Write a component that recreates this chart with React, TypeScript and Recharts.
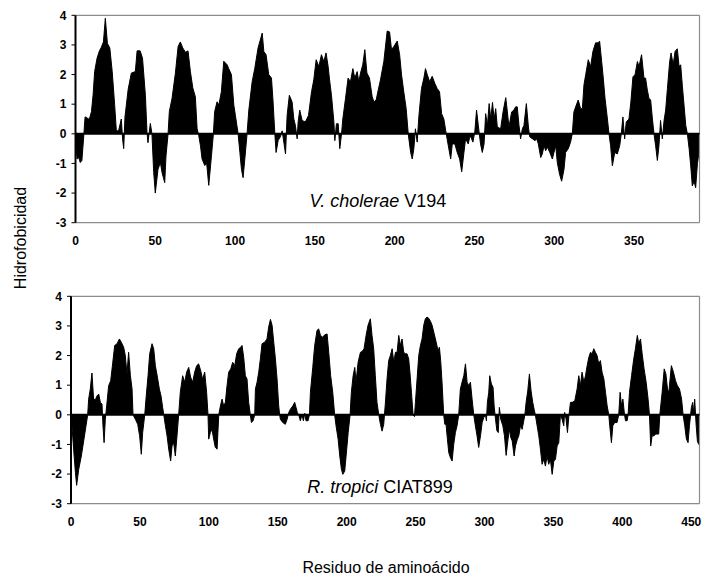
import React from 'react';
import { AreaChart, Area, XAxis, YAxis, ReferenceLine } from 'recharts';

// V. cholerae V194 — residue positions and hydrophobicity values
const vcResidues = [
  0, 1, 2, 3, 4, 5, 6, 7, 8, 9, 10, 11, 12, 13.5, 15, 16, 17.5, 18.7, 20, 21.5,
  23, 24.5, 25.6, 27, 28.7, 29.5, 30.2, 31, 33, 35, 37.5, 38.6, 40.5, 42, 43.8, 44.8,
  45.4, 46.9, 47.9, 49, 50, 51.7, 53.2, 54.2, 55.9, 56.7, 58, 58.8, 60.5, 62.6, 64.3, 65.7,
  67.2, 68.9, 70.5, 72, 73.5, 75.1, 76.2, 77.2, 78.3, 79.3, 81, 82.2, 83.5, 85.2, 86.4, 87.2,
  88.7, 89.8, 91.4, 92.9, 95, 96, 97.7, 99.2, 100.2, 101.9, 103, 104, 105, 106.1, 107.5, 108.6,
  110.7, 112.3, 114.4, 117, 118, 119.4, 121.1, 122.8, 123.8, 124.9, 125.7, 127, 128.4, 129.5, 130.7, 131.6,
  132.6, 134, 135.7, 136.8, 137.8, 138.9, 139.5, 140.5, 142, 144, 146, 147.9, 149.3, 150.8, 152.5, 154.1,
  155.6, 157, 158.3, 159.2, 160.4, 161.9, 162.5, 163.5, 164.6, 165.6, 166.7, 167.5, 169.2, 170.8, 172.3, 173.8,
  175, 176.5, 177.5, 178.6, 180, 181.3, 182.6, 184.2, 185.9, 187, 188.4, 189.7, 191.1, 193.2, 195.3, 196.8,
  198, 199.5, 201.6, 203.1, 204.3, 205.7, 207.2, 208.5, 210, 211, 212, 213, 214.1, 215.2, 216.8, 218.3,
  219.3, 220.4, 221.9, 223.5, 225.2, 226.6, 228.1, 229.4, 230.8, 232.3, 233.6, 235.1, 236.1, 237.7, 239.2, 240.7,
  242, 243.4, 244.4, 246.1, 247.2, 248.2, 249, 250.2, 251.3, 252.4, 253.8, 254.9, 256, 257, 258.1, 259.2,
  260.2, 261.3, 262.3, 263.3, 264.3, 266.4, 267.9, 269.6, 270.6, 271.6, 273.3, 274.7, 275.8, 276.8, 277.9, 278.9,
  280, 281, 282.5, 283.8, 284.6, 286.3, 288, 289, 290, 291.5, 292.5, 293.6, 294.6, 295.7, 297.2, 298.8,
  299.8, 300.9, 301.9, 303.3, 304.6, 306.1, 307.1, 308.8, 310.2, 311.3, 312.3, 313.8, 315, 316.5, 317.6, 318.6,
  319.7, 321.3, 322.8, 324.2, 325.9, 327.6, 328.4, 329.7, 330.7, 331.8, 333.3, 334.3, 335.3, 336.4, 337.9, 339.5,
  341, 342, 343, 344.1, 345.1, 346.8, 348, 349.3, 350.6, 352.1, 353.1, 354.7, 356.2, 357.2, 358.3, 359.3,
  360.4, 361.5, 362.5, 363.5, 364.6, 365.6, 366.6, 367.7, 368.8, 369.8, 370.9, 372.3, 373.2, 374.5, 375.7, 377.1,
  378.2, 379.2, 380.3, 381.3, 382.4, 383.4, 384.5, 385.5, 386.5, 387.6, 388.6, 389.7, 390.7, 391,
];
const vcHydro = [
  -0.3, -0.85, -0.8, -0.97, -0.9, -0.2, 0.57, 0.55, 0.5, 0.55, 0.75, 1.3, 2.1, 2.55, 2.8, 2.9, 3.1, 3.9, 3.05, 2.9,
  2.1, 1.0, 0.1, 0.1, 0.5, -0.17, -0.5, 0.57, 1.5, 2.05, 2.1, 2.8, 2.8, 2.55, 1.3, 0.05,
  -0.3, 0.35, 0, -1.3, -2.0, -1.2, -0.97, -1.3, -1.65, -0.75, 0, 0.75, 1.2, 2.05, 2.95, 3.1,
  2.9, 2.75, 2.8, 2.1, 1.55, 1.25, 0.17, -0.05, -0.4, -0.85, -1.07, -1.0, -1.74, -0.74, 0, 0.75,
  1.08, 0.97, 1.42, 2.45, 2.33, 2.2, 2.0, 0.97, 0.62, 0, -0.63, -1.2, -1.48, -0.85, 0, 0.8,
  1.76, 2.2, 2.9, 3.4, 2.78, 2.67, 2.0, 1.88, 1.08, 0, -0.63, -0.22, -0.1, 0.1, -0.34, -0.68,
  0.62, 1.3, 1.08, 0.5, 0.28, -0.17, 0.4, 0.8, 0.45, 0.4, 0.62, 1.42, 1.82, 2.5, 2.27, 2.67,
  2.44, 2.73, 2.27, 1.82, 1.3, 0.4, -0.23, 0.34, 0.34, -0.5, 0, 0.5, 1.2, 1.88, 1.76, 2.2,
  1.88, 2.1, 1.76, 2.05, 2.33, 2.84, 2.05, 1.88, 1.25, 1.08, 1.14, 1.48, 1.82, 2.44, 3.47, 3.44,
  2.84, 2.95, 3.13, 2.67, 1.99, 1.42, 0.85, 0, -0.63, -0.85, -0.5, 0.17, -0.28, 0.62, 1.53, 1.88,
  2.2, 2.0, 1.76, 1.94, 1.7, 1.53, 1.42, 0.68, 0.5, 0, -0.4, -0.85, -0.34, -0.34, -0.63, -0.85,
  -1.28, -0.63, -0.17, -0.34, -0.06, -0.17, -0.28, 0.06, 0.8, 0.28, -0.34, -0.63, -0.34, 0.68, 0.28, 1.02,
  0.5, 1.06, 0.5, 0.85, 0.23, 0.17, 0.74, 1.22, 0.74, 0.23, 0.74, 0.8, 0.91, 0.91, 0.28, -0.17,
  0.17, 0.28, 1.02, 0.23, -0.1, -0.17, -0.23, -0.17, -0.34, -0.8, -0.68, -0.4, -0.57, -0.45, -0.63, -0.85,
  -0.63, -0.4, -0.97, -1.36, -1.6, -1.2, -0.63, -0.5, -0.28, 0, 0.74, 0.97, 1.14, 0.85, 0.85, 1.65,
  2.0, 2.5, 2.27, 2.78, 3.07, 3.07, 3.13, 2.44, 1.88, 1.2, 0.5, 0, -0.4, -1.08, -0.63, -0.68,
  -0.4, 0, 0.57, -0.17, 0.4, 0.5, 1.08, 1.93, 1.99, 2.44, 2.27, 2.67, 1.88, 1.88, 1.48, 1.2,
  1.14, 0.5, 0, -0.4, -0.9, -0.4, 0.45, -0.17, 0.45, 0.8, 1.53, 2.44, 2.73, 2.33, 2.78, 2.87,
  2.27, 2.33, 1.59, 0.97, 0.28, 0, -0.5, -1.08, -1.76, -1.6, -1.82, -1.0, -0.63, -0.55,
];

// R. tropici CIAT899 — residue positions and hydrophobicity values
const rtResidues = [
  0, 0.7, 1.9, 3.2, 4.1, 5.6, 7.5, 9.2, 10.9, 12.1, 12.8, 14, 15.2, 16.4, 17.7, 18.9,
  20.1, 21.3, 22.5, 23.2, 24, 24.9, 25.9, 27.3, 28.8, 30.2, 31.7, 33.4, 35.1, 36.5, 38.2, 39.4,
  40.6, 41.8, 43.1, 44.3, 45, 46.7, 48.4, 49.8, 51, 52, 53.5, 54.4, 55.9, 57.1, 58.8, 60,
  61.2, 62.7, 64.1, 65.3, 66.5, 67.3, 68.5, 69.7, 70.9, 72.3, 73.3, 74.5, 75.7, 76.9, 78.1, 79.3,
  81, 82.5, 83.9, 85.4, 86.8, 88.3, 89.7, 91.2, 92.6, 94.1, 95.5, 97, 98.4, 99.4, 99.9, 101.1,
  102.3, 103.5, 104.7, 106, 107.2, 108.4, 109.6, 110.8, 112, 113.2, 114.4, 115.9, 117.3, 118.8, 120.2, 121.7,
  123.1, 124.1, 125.3, 126.5, 127.7, 128.9, 130.1, 130.9, 132.1, 133.3, 133.8, 135, 136.2, 137.4, 138.6, 140.5,
  142.2, 143.4, 144.7, 145.9, 147.1, 148.3, 149.5, 150.7, 151.4, 151.9, 153.6, 155.5, 156.8, 158, 159.2, 160.9,
  162.3, 163.3, 164.2, 165.2, 166.4, 167.6, 168.6, 169.6, 170.5, 172, 173, 173.7, 175.4, 176.8, 178.5, 179.7,
  181, 182.6, 184.1, 185.8, 187, 188.4, 189.9, 191.3, 192.3, 193.8, 195, 196.2, 197.2, 198.6, 199.6, 201.1,
  202.5, 203.4, 204.7, 205.9, 206.8, 208.3, 210, 211.2, 212.6, 214.1, 215.5, 217.2, 218.4, 219.6, 220.8, 222,
  223.3, 224.5, 225.7, 226.9, 228.1, 229.3, 230.5, 231.7, 233, 234.2, 235.4, 236.6, 237.8, 239, 240.2, 241.4,
  242.6, 243.8, 245, 246, 247, 248.2, 249.2, 249.9, 251.1, 252.3, 253.5, 254.7, 255.9, 257.1, 258.3, 259.5,
  260.8, 262, 264.4, 266.3, 267.3, 268.2, 269.2, 270.4, 271.2, 272.1, 273.1, 274.1, 275.3, 276.5, 277.7, 278.9,
  280.1, 281.3, 282.5, 283.7, 285, 286.2, 287.4, 288.6, 289.8, 291, 292.2, 293.4, 294.6, 295.8, 297.1, 298.3,
  299.5, 300.7, 301.4, 302.1, 303.1, 303.8, 305, 306.2, 307, 308, 309, 310, 310.8, 311.8, 313.3, 314.5,
  315.7, 317.1, 318.1, 319.1, 320.1, 321.5, 322.5, 323.9, 324.9, 326.1, 327.3, 328.5, 329.3, 330.2, 331.4, 332.6,
  333.8, 335, 336, 336.9, 338.2, 339.4, 340.6, 341.8, 343, 344.2, 345.4, 346.6, 347.8, 349.1, 350.3, 351.5,
  352.7, 353.9, 355.1, 356.3, 357.5, 358.2, 359.2, 360.2, 361.2, 362.4, 363.6, 365.5, 367.2, 368.4, 369.6, 370.8,
  372.1, 373.3, 374.5, 375.7, 376.9, 378.1, 379.3, 380.5, 381.7, 382.9, 384.1, 385.3, 386.6, 387.8, 389, 390.2,
  390.9, 392.1, 393.1, 394.5, 396.2, 397.4, 398.4, 399.4, 400.4, 401.6, 402.3, 403.5, 404.2, 405.2, 406.7, 408.3,
  409.5, 410.9, 411.9, 413.2, 414.4, 415.8, 417.3, 418.7, 419.7, 420.6, 421.6, 423, 424.2, 426.4, 427.2, 428.9,
  430.4, 431.6, 432.8, 433.8, 434.2, 435.6, 437.1, 438.6, 440, 441.5, 443, 444.1, 445.3, 446.5, 447.7, 448.7,
  450.1, 451.1, 452, 452.5, 453.5, 454.5, 455.5, 456,
];
const rtHydro = [
  -0.2, -0.37, -1.16, -1.95, -2.38, -1.84, -1.39, -0.88, -0.37, 0, 0.53, 0.87, 1.41, 0.53, 0.51, 0.64,
  0.7, 0.42, 0.36, -0.37, -0.94, -0.15, 0.3, 0.98, 1.15, 1.72, 2.34, 2.4, 2.56, 2.45, 2.28, 2.0,
  1.38, 2.11, 1.32, 0.87, 0, -0.15, -0.32, -0.71, -1.33, -0.6, 0, 0.53, 1.32, 2.06, 2.4, 2.23,
  1.66, 1.27, 0.87, 0.64, 0.25, 0, -0.37, -0.71, -1.16, -1.56, -1.05, -0.94, -1.39, -0.71, 0, 0.76,
  1.32, 1.1, 1.44, 1.6, 1.27, 1.1, 1.44, 1.66, 1.72, 1.49, 1.2, 1.44, 0.76, 0, -0.82, -0.6,
  -0.49, -0.82, -1.1, -1.16, 0, 0.3, 0.53, 0.3, 0.42, 0.98, 1.44, 1.55, 1.77, 1.66, 2.06, 2.23,
  2.28, 2.34, 1.94, 1.32, 1.21, 0.42, 0, -0.26, -0.2, 0, 0.87, 1.1, 1.44, 1.89, 2.4, 2.45,
  2.56, 2.96, 3.22, 3.02, 2.45, 1.89, 1.21, 0.3, 0, -0.15, -0.26, -0.32, -0.15, 0.08, 0.19, 0.3,
  0.42, 0.25, 0.08, 0, -0.2, 0, -0.2, 0.05, -0.2, -0.2, 0, 0.76, 1.6, 2.34, 2.85, 2.9,
  2.68, 2.62, 2.7, 2.73, 2.11, 1.32, 0.76, 0, -0.37, -0.82, -1.39, -1.84, -2.01, -1.9, -1.39, -0.6,
  0, 0.76, 1.32, 1.6, 1.1, 1.77, 2.11, 2.14, 2.23, 2.68, 3.02, 3.24, 2.68, 2.23, 1.32, 0.42,
  0, -0.32, -0.55, -0.32, 0.4, 1.21, 1.83, 2.0, 2.23, 1.77, 2.11, 2.11, 2.68, 2.34, 2.56, 2.11,
  2.06, 2.06, 1.89, 1.38, 0.76, 0, -0.06, 0.42, 1.21, 2.0, 2.34, 2.56, 3.02, 3.24, 3.3, 3.26,
  3.16, 3.02, 2.56, 2.17, 2.28, 1.83, 1.1, 0, -0.32, -0.32, -0.82, -1.28, -1.45, -1.56, -0.99, -0.6,
  -0.37, 0, 0.87, 1.1, 1.32, 1.72, 1.1, 0.98, 1.1, 0.53, 0, -0.37, -0.71, -1.1, -0.71, -0.26,
  -0.09, 0, -0.2, 0.42, 0.76, 1.32, 1.04, 0.93, 0.3, -0.15, -0.54, -0.6, 0.25, -0.15, -0.37, -0.71,
  -1.37, -0.82, -0.49, -0.77, -0.88, -1.39, -1.05, -0.82, -0.71, -0.37, -0.49, -0.2, 0, 0.42, 0.81, 1.38,
  0.81, 0.42, 0.19, 0, -0.37, -0.71, -1.16, -1.67, -1.5, -1.73, -1.39, -1.67, -1.5, -2.01, -1.56, -1.5,
  -1.05, -0.94, 0, -0.15, -0.37, 0.08, -0.15, -0.6, -0.05, 0.42, 0.42, 0.47, 0.87, 1.32, 0.98, 1.44,
  1.1, 1.32, 1.66, 1.94, 2.11, 2.06, 2.23, 2.11, 2.0, 1.72, 1.83, 1.44, 1.21, 0.76, 0.3, 0,
  -0.37, -0.94, -0.37, -0.26, -0.26, 0, 0.76, 0.3, 0.53, 0, -0.2, -0.2, 0, 0.76, 1.32, 1.89,
  2.23, 2.68, 2.4, 2.56, 2.06, 1.55, 1.1, 0.53, 0, -1.05, -0.71, -0.71, -0.65, -0.65, 0, 0.76,
  1.55, 1.38, 0.87, 0.76, 0.98, 1.66, 1.44, 1.15, 0.98, 0.87, 0.53, 0, -0.37, -0.82, -0.94, -0.37,
  0.25, 0.42, 0, 0.53, -0.3, -0.9, -1.0, -1.0,
];

const yTicks = [-3, -2, -1, 0, 1, 2, 3, 4];
const vcXTicks = [0, 50, 100, 150, 200, 250, 300, 350];
const rtXTicks = [0, 50, 100, 150, 200, 250, 300, 350, 400, 450];

const vcData = vcResidues.map((r, i) => ({ r, h: vcHydro[i] }));
const rtData = rtResidues.map((r, i) => ({ r, h: rtHydro[i] }));

const FONT = "'Liberation Sans', Arial, sans-serif";
const tickStyle = { fill: '#000', fontSize: 12, fontWeight: 'bold', fontFamily: FONT };

type PanelProps = {
  data: { r: number; h: number }[];
  xMax: number;
  xTicks: number[];
  axisLeft: number;
  top: number;
};

function Panel({ data, xMax, xTicks, axisLeft, top }: PanelProps) {
  return (
    <div style={{ position: 'absolute', left: 0, top }}>
      <AreaChart
        width={707}
        height={260}
        data={data}
        margin={{ top: 15.3, right: 7.5, left: 0, bottom: 7.3 }}
      >
        <XAxis
          dataKey="r"
          type="number"
          domain={[0, xMax]}
          ticks={xTicks}
          interval={0}
          allowDataOverflow
          tickLine={false}
          axisLine={{ stroke: '#8c8c8c', strokeWidth: 1.2 }}
          tickSize={0}
          tickMargin={14}
          height={30}
          tick={tickStyle}
        />
        <YAxis
          type="number"
          domain={[-3, 4]}
          ticks={yTicks}
          interval={0}
          width={axisLeft}
          axisLine={{ stroke: '#000', strokeWidth: 2 }}
          tickLine={{ stroke: '#000', strokeWidth: 1 }}
          tickSize={4}
          tickMargin={5}
          tick={tickStyle}
        />
        <ReferenceLine y={4} stroke="#8c8c8c" strokeWidth={1.2} />
        <ReferenceLine x={xMax} stroke="#8c8c8c" strokeWidth={1.2} />
        <Area
          type="linear"
          dataKey="h"
          stroke="#000"
          strokeWidth={1}
          fill="#000"
          fillOpacity={1}
          baseValue={0}
          dot={false}
          activeDot={false}
          isAnimationActive={false}
        />
        <ReferenceLine y={0} stroke="#000" strokeWidth={2} />
      </AreaChart>
    </div>
  );
}

export default function App() {
  return (
    <div
      style={{
        position: 'fixed',
        left: 0,
        top: 0,
        width: 707,
        height: 584,
        background: '#fff',
        fontFamily: FONT,
      }}
    >
      <Panel data={vcData} xMax={391} xTicks={vcXTicks} axisLeft={75.5} top={0} />
      <Panel data={rtData} xMax={456} xTicks={rtXTicks} axisLeft={71} top={280.7} />
      <svg
        width={707}
        height={584}
        style={{ position: 'absolute', left: 0, top: 0, pointerEvents: 'none' }}
      >
        <text x={378} y={206.7} textAnchor="middle" fontSize={18} fontFamily={FONT} fill="#000">
          <tspan fontStyle="italic">V. cholerae</tspan>
          <tspan>{' V194'}</tspan>
        </text>
        <text x={380} y={492.7} textAnchor="middle" fontSize={18} fontFamily={FONT} fill="#000">
          <tspan fontStyle="italic">R. tropici</tspan>
          <tspan>{' CIAT899'}</tspan>
        </text>
        <text
          x={0}
          y={0}
          transform="translate(26, 238) rotate(-90)"
          textAnchor="middle"
          fontSize={16}
          fontFamily={FONT}
          fill="#000"
        >
          Hidrofobicidad
        </text>
        <text x={386} y={573} textAnchor="middle" fontSize={16} fontFamily={FONT} fill="#000">
          Residuo de aminoácido
        </text>
      </svg>
    </div>
  );
}
